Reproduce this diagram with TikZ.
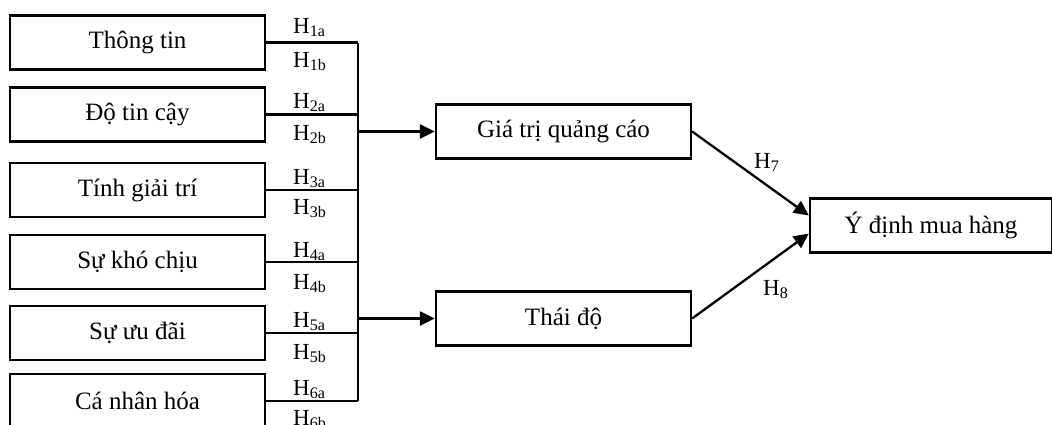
\documentclass[tikz,border=0pt]{standalone}
\usepackage{fontspec}
\setmainfont{Liberation Serif}
\usetikzlibrary{arrows.meta}
\begin{document}
\begin{tikzpicture}[x=1pt,y=-1pt,
  box/.style={draw, line width=2.3pt, minimum width=255pt, minimum height=54pt, inner sep=0pt, font=\fontsize{25}{29}\selectfont},
  hlab/.style={anchor=base west, inner sep=0pt, font=\fontsize{23}{26}\selectfont},
  conn/.style={line width=2.3pt},
  arr/.style={line width=2.3pt, -{Triangle[length=15pt,width=14pt]}}]
\useasboundingbox (0,0) rectangle (1052,424);
% left boxes
\node[box] (b1) at (137.5,42.5) {Thông tin};
\node[box] (b2) at (137.5,114.5) {Độ tin cậy};
\node[box] (b3) at (137.5,190) {Tính giải trí};
\node[box] (b4) at (137.5,262) {Sự khó chịu};
\node[box] (b5) at (137.5,333) {Sự ưu đãi};
\node[box] (b6) at (137.5,401) {Cá nhân hóa};
% middle and right boxes
\node[box] (gt) at (563.5,131.5) {Giá trị quảng cáo};
\node[box] (td) at (563.5,318.5) {Thái độ};
\node[box, minimum width=242pt] (yd) at (931,225.5) {Ý định mua hàng};
% bus junctions
\coordinate (j1) at (358,42.5);
\coordinate (j2) at (358,114.5);
\coordinate (j3) at (358,190);
\coordinate (j4) at (358,262);
\coordinate (j5) at (358,333);
\coordinate (j6) at (358,401);
\coordinate (ja) at (358,131.5);
\coordinate (jb) at (358,318.5);
\draw[conn] (b1.east) -- (j1);
\draw[conn] (b2.east) -- (j2);
\draw[conn] (b3.east) -- (j3);
\draw[conn] (b4.east) -- (j4);
\draw[conn] (b5.east) -- (j5);
\draw[conn] (b6.east) -- (j6);
\draw[conn] (j1) -- (j6);
\draw[arr] (ja) -- (gt.west);
\draw[arr] (jb) -- (td.west);
\draw[arr] (gt.east) -- ([yshift=10pt]yd.west);
\draw[arr] (td.east) -- ([yshift=-8pt]yd.west);
% labels
\node[hlab] (h1a) at (293,33) {H\textsubscript{1a}};
\node[hlab] (h1b) at (293,67) {H\textsubscript{1b}};
\node[hlab] (h2a) at (293,108) {H\textsubscript{2a}};
\node[hlab] (h2b) at (293,140) {H\textsubscript{2b}};
\node[hlab] (h3a) at (293,184) {H\textsubscript{3a}};
\node[hlab] (h3b) at (293,214) {H\textsubscript{3b}};
\node[hlab] (h4a) at (293,257) {H\textsubscript{4a}};
\node[hlab] (h4b) at (293,289) {H\textsubscript{4b}};
\node[hlab] (h5a) at (293,327) {H\textsubscript{5a}};
\node[hlab] (h5b) at (293,359) {H\textsubscript{5b}};
\node[hlab] (h6a) at (293,395) {H\textsubscript{6a}};
\node[hlab] (h6b) at (293,425) {H\textsubscript{6b}};
\node[hlab] (h7) at (754,168) {H\textsubscript{7}};
\node[hlab] (h8) at (763,295) {H\textsubscript{8}};
\end{tikzpicture}
\end{document}
